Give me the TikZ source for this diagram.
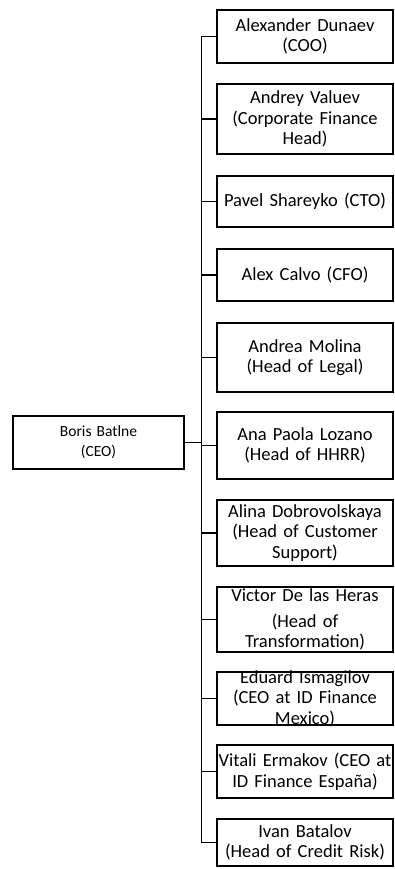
\documentclass[tikz,border=0pt]{standalone}
\usepackage{fontspec}
\setmainfont{Carlito}
\usepackage{tikz}

\begin{document}
\begin{tikzpicture}[x=1pt, y=-1pt,
    box/.style={draw, line width=1.6pt, minimum width=176pt, inner sep=0pt},
    txt/.style={align=center, text width=176pt, inner sep=0pt, font=\fontsize{18.5}{20.5}\selectfont},
    wire/.style={line width=1.6pt}]
            \useasboundingbox (0,0) rectangle (395,869);
            \node[box, minimum width=171pt, minimum height=53pt, label={[txt, font=\fontsize{15.5}{20}\selectfont, name=ceot]center:{Boris Batlne\\(CEO)}}] (ceo) at (98.5,442.5) {};
            \node[box, minimum height=53pt, label={[txt, name=coot]center:{Alexander Dunaev\\(COO)}}] (coo) at (305,36.5) {};
            \node[box, minimum height=70pt, label={[txt, name=cfht]center:{Andrey Valuev\\(Corporate Finance\\Head)}}] (cfh) at (305,119) {};
            \node[box, minimum height=51pt, label={[txt, name=ctot]center:{Pavel Shareyko (CTO)}}] (cto) at (305,201.5) {};
            \node[box, minimum height=52pt, label={[txt, name=cfot]center:{Alex Calvo (CFO)}}] (cfo) at (305,275) {};
            \node[box, minimum height=69pt, label={[txt, name=legalt]center:{Andrea Molina\\(Head of Legal)}}] (legal) at (305,357.5) {};
            \node[box, minimum height=67pt, label={[txt, name=hhrrt]center:{Ana Paola Lozano\\(Head of HHRR)}}] (hhrr) at (305,445.5) {};
            \node[box, minimum height=66pt, label={[txt, name=supportt]center:{Alina Dobrovolskaya\\(Head of Customer\\Support)}}] (support) at (305,533) {};
            \node[box, minimum height=65pt, label={[txt, name=transft]center:{Victor De las Heras\\[5pt](Head of\\Transformation)}}] (transf) at (305,619.5) {};
            \node[box, minimum height=53pt, label={[txt, name=mexicot]center:{Eduard Ismagilov\\(CEO at ID Finance\\Mexico)}}] (mexico) at (305,698.5) {};
            \node[box, minimum height=53pt, label={[txt, name=espanat]center:{Vitali Ermakov (CEO at\\ID Finance España)}}] (espana) at (305,771.5) {};
            \node[box, minimum height=47pt, label={[txt, name=riskt]center:{Ivan Batalov\\(Head of Credit Risk)}}] (risk) at (305,842.5) {};
            \coordinate (bus) at (201.5,0);
            \draw[wire] (coo.west -| bus) -- (risk.west -| bus);
            \draw[wire] (ceo.east) -- (ceo.east -| bus);
            \draw[wire] (coo.west) -- (coo.west -| bus) (cfh.west) -- (cfh.west -| bus)
                (cto.west) -- (cto.west -| bus) (cfo.west) -- (cfo.west -| bus)
                (legal.west) -- (legal.west -| bus) (hhrr.west) -- (hhrr.west -| bus)
                (support.west) -- (support.west -| bus) (transf.west) -- (transf.west -| bus)
                (mexico.west) -- (mexico.west -| bus) (espana.west) -- (espana.west -| bus)
                (risk.west) -- (risk.west -| bus);
\end{tikzpicture}
\end{document}
